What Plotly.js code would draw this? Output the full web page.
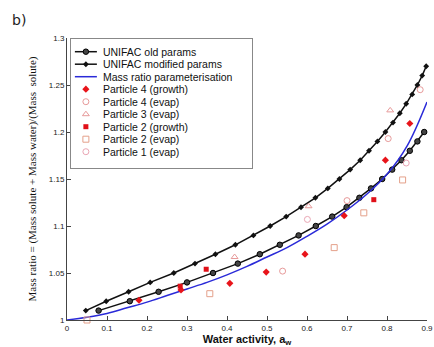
<!DOCTYPE html>
<html><head><meta charset="utf-8">
<script src="https://cdn.plot.ly/plotly-3.0.1.min.js"></script>
<style>html,body{margin:0;padding:0;background:#fff}#c{width:434px;height:347px}</style>
</head><body><div id="c"></div>
<script>
// UNIFAC old params (markers)
const oldX = [0.079,0.157,0.229,0.300,0.365,0.427,0.482,0.532,0.579,0.622,0.663,0.699,0.731,0.760,0.788,0.813,0.836,0.857,0.876,0.893];
const oldY = [1.01,1.02,1.03,1.04,1.05,1.06,1.07,1.08,1.09,1.10,1.11,1.12,1.13,1.14,1.15,1.16,1.17,1.18,1.19,1.20];
// UNIFAC modified params
const modX = [0.047,0.098,0.154,0.208,0.267,0.320,0.371,0.421,0.466,0.508,0.548,0.585,0.621,0.652,0.681,0.708,0.733,0.755,0.776,0.796,0.815,0.832,0.848,0.863,0.876,0.888,0.898];
const modY = [1.01,1.02,1.03,1.04,1.05,1.06,1.07,1.08,1.09,1.10,1.11,1.12,1.13,1.14,1.15,1.16,1.17,1.18,1.19,1.20,1.21,1.22,1.23,1.24,1.25,1.26,1.27];
// Mass ratio parameterisation
const parX = [0,0.05,0.1,0.15,0.2,0.25,0.3,0.35,0.4,0.45,0.5,0.55,0.6,0.65,0.7,0.75,0.8,0.85,0.9];
const parY = [1.0,1.003,1.007,1.013,1.019,1.026,1.033,1.040,1.048,1.057,1.067,1.077,1.089,1.102,1.117,1.134,1.155,1.185,1.232];
// Measurements
const p4gX = [0.180,0.285,0.407,0.498,0.595,0.693,0.796,0.857];
const p4gY = [1.021,1.032,1.039,1.051,1.070,1.111,1.170,1.209];
const p4eX = [0.539,0.700,0.803,0.883];
const p4eY = [1.052,1.127,1.193,1.245];
const p3eX = [0.419,0.604,0.808];
const p3eY = [1.067,1.121,1.223];
const p2gX = [0.283,0.348,0.767];
const p2gY = [1.036,1.054,1.128];
const p2eX = [0.050,0.357,0.668,0.742,0.839];
const p2eY = [1.000,1.028,1.077,1.114,1.149];
const p1eX = [0.601,0.848];
const p1eY = [1.107,1.167];

const xTicks = [0,0.1,0.2,0.3,0.4,0.5,0.6,0.7,0.8,0.9];
const xTickText = ['0','0.1','0.2','0.3','0.4','0.5','0.6','0.7','0.8','0.9'];
const yTicks = [1,1.05,1.1,1.15,1.2,1.25,1.3];
const yTickText = ['1','1.05','1.1','1.15','1.2','1.25','1.3'];

const pink = '#e79a9a';
const traces = [
  {x: oldX, y: oldY, name: 'UNIFAC old params', mode: 'lines+markers',
   line: {color: '#111', width: 1.5}, marker: {symbol: 'circle', size: 5.5, color: '#444', line: {color: '#000', width: 1}}},
  {x: modX, y: modY, name: 'UNIFAC modified params', mode: 'lines+markers',
   line: {color: '#111', width: 1.5}, marker: {symbol: 'diamond', size: 4.5, color: '#111'}},
  {x: parX, y: parY, name: 'Mass ratio parameterisation', mode: 'lines',
   line: {color: '#2a2ad8', width: 1.5, shape: 'spline'}},
  {x: p4gX, y: p4gY, name: 'Particle 4 (growth)', mode: 'markers',
   marker: {symbol: 'diamond', size: 5.5, color: '#e8141a'}},
  {x: p4eX, y: p4eY, name: 'Particle 4 (evap)', mode: 'markers',
   marker: {symbol: 'circle-open', size: 6, color: pink, line: {width: 1}}},
  {x: p3eX, y: p3eY, name: 'Particle 3 (evap)', mode: 'markers',
   marker: {symbol: 'triangle-up-open', size: 6, color: pink, line: {width: 1}}},
  {x: p2gX, y: p2gY, name: 'Particle 2 (growth)', mode: 'markers',
   marker: {symbol: 'square', size: 5, color: '#e01018'}},
  {x: p2eX, y: p2eY, name: 'Particle 2 (evap)', mode: 'markers',
   marker: {symbol: 'square-open', size: 6, color: '#e4a08a', line: {width: 1}}},
  {x: p1eX, y: p1eY, name: 'Particle 1 (evap)', mode: 'markers',
   marker: {symbol: 'circle-open', size: 6, color: '#eaa6b4', line: {width: 1}}}
];
traces.forEach(t => { t.type = 'scatter'; t.cliponaxis = false; });

const layout = {
  width: 434, height: 347,
  margin: {l: 67, r: 7, t: 38, b: 27},
  paper_bgcolor: '#fff', plot_bgcolor: '#fff',
  font: {family: 'Liberation Sans, Arial, sans-serif', size: 8, color: '#222'},
  showlegend: true,
  legend: {x: 0.008, y: 1, xanchor: 'left', yanchor: 'top', bgcolor: '#fff',
    bordercolor: '#888', borderwidth: 1, font: {size: 10.5, color: '#111'},
    tracegroupgap: 0, itemwidth: 30},
  xaxis: {range: [0, 0.9], tickvals: xTicks, ticktext: xTickText, ticks: 'inside', ticklen: 4,
    tickcolor: '#444', showline: true, linecolor: '#444', linewidth: 1, showgrid: false, zeroline: false,
    tickfont: {size: 8}, automargin: false,
    title: {text: 'Water activity, a<sub>w</sub>', font: {size: 11, color: '#111', family: 'Liberation Sans, Arial, sans-serif', weight: 'bold'}}},
  yaxis: {range: [1, 1.3], tickvals: yTicks, ticktext: yTickText, ticks: 'inside', ticklen: 4,
    tickcolor: '#444', showline: true, linecolor: '#444', linewidth: 1, showgrid: false, zeroline: false,
    tickfont: {size: 8}, automargin: true,
    title: {text: 'Mass ratio = (Mass solute + Mass water)/(Mass  solute)', font: {size: 11, family: 'Liberation Serif, Times New Roman, serif', color: '#111'}, standoff: 9}},
  annotations: [{text: 'b)', xref: 'paper', yref: 'paper', x: -0.158, y: 1.064, xanchor: 'left', yanchor: 'middle',
    showarrow: false, font: {size: 14, color: '#222', family: 'DejaVu Sans, sans-serif'}}]
};
Plotly.newPlot('c', traces, layout, {displayModeBar: false, staticPlot: true}).then(gd => {
  // compact the legend rows to match the reference spacing
  const leg = gd.querySelector('.legend');
  if (!leg) return;
  const items = leg.querySelectorAll('.traces');
  items.forEach((g, i) => {
    g.setAttribute('transform', 'translate(0,' + (13.7 + i * 12.5) + ')');
    const t = g.querySelector('text.legendtext');
    if (t) {
      t.removeAttribute('transform');
      t.setAttribute('x', 33);
      t.querySelectorAll('tspan[x]').forEach(s => s.setAttribute('x', 33));
    }
    g.querySelectorAll('.legendlines path').forEach(p => p.setAttribute('d', 'M5,0h22'));
    g.querySelectorAll('.legendpoints path').forEach(p => {
      const tr = p.getAttribute('transform');
      if (tr) p.setAttribute('transform', tr.replace(/translate\(\s*20/, 'translate(16'));
    });
  });
  const bg = leg.querySelector('rect.bg');
  if (bg) { bg.setAttribute('height', 130); bg.setAttribute('width', 182); }
});
</script></body></html>
